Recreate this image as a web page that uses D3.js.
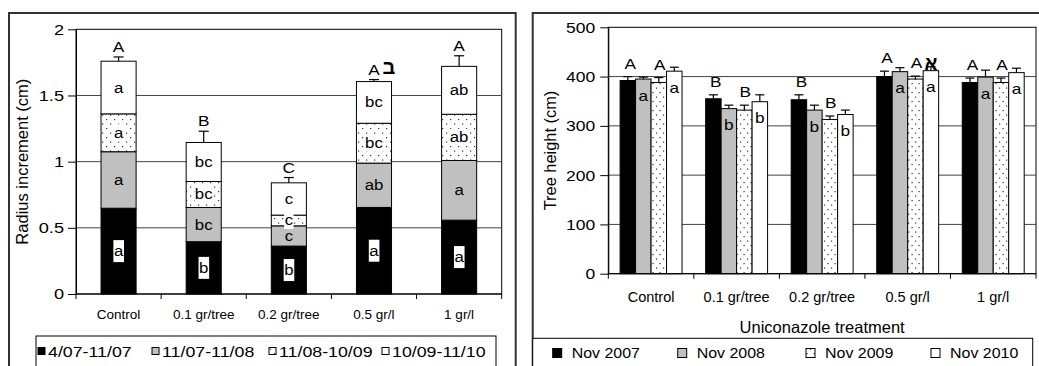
<!DOCTYPE html>
<html>
<head>
<meta charset="utf-8">
<script src="https://cdn.jsdelivr.net/npm/d3@7"></script>
<style>
  body { margin: 0; background: #fff; }
  svg text { font-family: "Liberation Sans", Arial, sans-serif; fill: #000; }
</style>
</head>
<body>
<div id="chart"></div>
<script>
const categories = ['Control', '0.1 gr/tree', '0.2 gr/tree', '0.5 gr/l', '1 gr/l']

// left panel: radius increment per period (stacked, cm)
const periods = ['4/07-11/07', '11/07-11/08', '11/08-10/09', '10/09-11/10']
const inc0407 = [0.648, 0.395, 0.362, 0.654, 0.558]
const inc1107 = [0.427, 0.259, 0.153, 0.335, 0.451]
const inc1108 = [0.286, 0.196, 0.081, 0.301, 0.349]
const inc1009 = [0.398, 0.295, 0.244, 0.315, 0.362]
const incErr = [0.032, 0.085, 0.04, 0.015, 0.08]
const let0407 = ['a', 'b', 'b', 'a', 'a']
const let1107 = ['a', 'bc', 'c', 'ab', 'a']
const let1108 = ['a', 'bc', 'c', 'bc', 'ab']
const let1009 = ['a', 'bc', 'c', 'bc', 'ab']
const incTotalLetters = ['A', 'B', 'C', 'A', 'A']
const incMarks = ['', '', '', 'ב', '']

// right panel: tree height (cm)
const years = ['Nov 2007', 'Nov 2008', 'Nov 2009', 'Nov 2010']
const h2007 = [392, 355, 353, 400, 388]
const h2008 = [395, 335, 332, 410, 399]
const h2009 = [388, 332, 313, 395, 388]
const h2010 = [411, 349, 323, 412, 408]
const e2007 = [8, 8, 10, 11, 9]
const e2008 = [4, 7, 10, 8, 14]
const e2009 = [10, 10, 7, 6, 9]
const e2010 = [8, 14, 9, 8, 9]
const heightUpper = ['A', 'B', 'B', 'A', 'A']
const heightLower = ['a', 'b', 'b', 'a', 'a']
const heightMarks = ['', '', '', 'א', '']

const width = 1039
const height = 366

const svg = d3.select('#chart')
  .append('svg')
  .attr('width', width)
  .attr('height', height)

const defs = svg.append('defs')

function dotPattern(id, w, h, dots) {
  const p = defs.append('pattern')
    .attr('id', id)
    .attr('patternUnits', 'userSpaceOnUse')
    .attr('width', w)
    .attr('height', h)
  p.append('rect').attr('width', w).attr('height', h).attr('fill', '#fff')
  dots.forEach(([cx, cy]) => {
    p.append('rect').attr('x', cx).attr('y', cy).attr('width', 1.2).attr('height', 1.2).attr('fill', '#333')
  })
}
dotPattern('dotsL', 8, 9, [[2, 2], [6, 6.5]])
dotPattern('dotsR', 7, 9, [[1.5, 2], [5, 6.5]])

function widen(sel, k) {
  sel.each(function () {
    const len = this.getComputedTextLength()
    d3.select(this).attr('textLength', len * k).attr('lengthAdjust', 'spacingAndGlyphs')
  })
}

// panel frames
svg.append('rect')
  .attr('x', 9).attr('y', 13).attr('width', 506.7).attr('height', 400)
  .attr('fill', 'none').attr('stroke', '#333').attr('stroke-width', 2)
svg.append('rect')
  .attr('x', 532.7).attr('y', 13).attr('width', 520).attr('height', 400)
  .attr('fill', 'none').attr('stroke', '#333').attr('stroke-width', 2)

// ---------- left panel ----------
function drawLeft() {
  const m = { left: 76, right: 501.7, top: 29.3, bottom: 294 }
  const x = d3.scaleBand().domain(categories).range([m.left, m.right])
    .paddingInner(0.588).paddingOuter(0.294)
  const y = d3.scaleLinear().domain([0, 2]).range([m.bottom, m.top])
  const g = svg.append('g')

  g.append('rect')
    .attr('x', m.left).attr('y', m.top)
    .attr('width', m.right - m.left).attr('height', m.bottom - m.top)
    .attr('fill', '#fff').attr('stroke', '#000')

  g.append('g').selectAll('line')
    .data([0.5, 1, 1.5])
    .join('line')
    .attr('x1', m.left).attr('x2', m.right)
    .attr('y1', d => y(d)).attr('y2', d => y(d))
    .attr('stroke', '#444')

  const series = [inc0407, inc1107, inc1108, inc1009]
  const seriesLetters = [let0407, let1107, let1108, let1009]
  const rows = categories.map((c, i) => {
    const r = { cat: c }
    periods.forEach((p, j) => { r[p] = series[j][i] })
    return r
  })
  const stacked = d3.stack().keys(periods)(rows)
  const fills = ['#000', '#c0c0c0', 'url(#dotsL)', '#fff']

  g.append('g').selectAll('g')
    .data(stacked)
    .join('g')
    .attr('fill', (_, j) => fills[j])
    .attr('stroke', '#000')
    .attr('stroke-width', 1)
    .selectAll('rect')
    .data(d => d)
    .join('rect')
    .attr('x', d => x(d.data.cat))
    .attr('y', d => y(d[1]))
    .attr('width', x.bandwidth())
    .attr('height', d => y(d[0]) - y(d[1]))

  const totals = categories.map((_, i) => series.reduce((s, a) => s + a[i], 0))
  const cx = c => x(c) + x.bandwidth() / 2

  // error bars
  const eb = g.append('g').attr('stroke', '#000').attr('stroke-width', 1.2)
  categories.forEach((c, i) => {
    eb.append('line')
      .attr('x1', cx(c)).attr('x2', cx(c))
      .attr('y1', y(totals[i])).attr('y2', y(totals[i] + incErr[i]))
    eb.append('line')
      .attr('x1', cx(c) - 5).attr('x2', cx(c) + 5)
      .attr('y1', y(totals[i] + incErr[i])).attr('y2', y(totals[i] + incErr[i]))
  })

  // segment letters
  stacked.forEach((layer, j) => {
    layer.forEach((d, i) => {
      const t = g.append('text')
        .attr('x', cx(d.data.cat))
        .attr('y', (y(d[0]) + y(d[1])) / 2)
        .attr('text-anchor', 'middle')
        .attr('dominant-baseline', 'central')
        .attr('font-size', 14)
        .text(seriesLetters[j][i])
      widen(t, 1.2)
      if (j === 0 || j === 2) {
        const b = t.node().getBBox()
        const py = j === 0 ? 3 : 0.5
        g.insert('rect', () => t.node())
          .attr('x', b.x - 0.5).attr('y', b.y - py)
          .attr('width', b.width + 1).attr('height', b.height + 2 * py)
          .attr('fill', '#fff')
      }
    })
  })

  // group letters above bars
  const up = g.append('g').attr('text-anchor', 'middle')
  categories.forEach((c, i) => {
    const t = up.append('text')
      .attr('x', cx(c))
      .attr('y', y(totals[i] + incErr[i]) - 5)
      .attr('font-size', 15)
      .text(incTotalLetters[i])
    widen(t, 1.15)
    if (incMarks[i]) {
      up.append('text')
        .attr('x', cx(c) + 15)
        .attr('y', y(totals[i] + incErr[i]) - 6)
        .attr('font-size', 20)
        .attr('font-weight', 'bold')
        .text(incMarks[i])
    }
  })

  // axes
  const yAxis = g.append('g')
    .attr('transform', `translate(${m.left},0)`)
    .call(d3.axisLeft(y).tickValues([0, 0.5, 1, 1.5, 2]).tickSize(8).tickSizeOuter(0).tickPadding(4).tickFormat(d => d))
  yAxis.attr('font-size', 14).attr('font-family', null)
  yAxis.selectAll('text').attr('dy', '0.35em')
  widen(yAxis.selectAll('text'), 1.3)

  g.append('line')
    .attr('x1', m.left).attr('x2', m.right)
    .attr('y1', m.bottom).attr('y2', m.bottom)
    .attr('stroke', '#000')
  g.append('g').selectAll('line')
    .data(d3.range(categories.length + 1))
    .join('line')
    .attr('x1', i => m.left + i * x.step()).attr('x2', i => m.left + i * x.step())
    .attr('y1', m.bottom).attr('y2', m.bottom + 5)
    .attr('stroke', '#000')
  g.append('g').selectAll('text')
    .data(categories)
    .join('text')
    .attr('x', d => cx(d))
    .attr('y', 318.5)
    .attr('text-anchor', 'middle')
    .attr('font-size', 13.5)
    .text(d => d)

  g.append('text')
    .attr('transform', `translate(28,${(m.top + m.bottom) / 2}) rotate(-90)`)
    .attr('text-anchor', 'middle')
    .attr('font-size', 16.5)
    .text('Radius increment (cm)')

  // legend
  const lg = g.append('g')
  lg.append('rect')
    .attr('x', 36).attr('y', 336).attr('width', 460).attr('height', 60)
    .attr('fill', '#fff').attr('stroke', '#000')
  const legX = [48, 162, 279, 392]
  const legFill = ['#000', '#c0c0c0', 'url(#dotsL)', '#fff']
  periods.forEach((p, j) => {
    lg.append('rect')
      .attr('x', legX[j] - 10).attr('y', 347.5)
      .attr('width', 7).attr('height', 7)
      .attr('fill', legFill[j]).attr('stroke', '#000')
    const t = lg.append('text')
      .attr('x', legX[j]).attr('y', 357)
      .attr('font-size', 14)
      .text(p)
    widen(t, 1.27)
  })
}

// ---------- right panel ----------
function drawRight() {
  const m = { left: 608.3, right: 1036, top: 27.3, bottom: 273.7 }
  const x0 = d3.scaleBand().domain(categories).range([m.left, m.right])
    .paddingInner(0.276).paddingOuter(0.138)
  const x1 = d3.scaleBand().domain(years).range([0, x0.bandwidth()])
  const y = d3.scaleLinear().domain([0, 500]).range([m.bottom, m.top])
  const g = svg.append('g')

  g.append('rect')
    .attr('x', m.left).attr('y', m.top)
    .attr('width', m.right - m.left).attr('height', m.bottom - m.top)
    .attr('fill', '#fff').attr('stroke', '#000')

  g.append('g').selectAll('line')
    .data([100, 200, 300, 400])
    .join('line')
    .attr('x1', m.left).attr('x2', m.right)
    .attr('y1', d => y(d)).attr('y2', d => y(d))
    .attr('stroke', '#444')

  const vals = [h2007, h2008, h2009, h2010]
  const errs = [e2007, e2008, e2009, e2010]
  const fills = ['#000', '#c0c0c0', 'url(#dotsR)', '#fff']
  const rows = []
  categories.forEach((c, i) => {
    years.forEach((yr, j) => rows.push({ cat: c, yr, j, v: vals[j][i], e: errs[j][i] }))
  })
  const bx = d => x0(d.cat) + x1(d.yr)
  const bw = x1.bandwidth()

  g.append('g').selectAll('rect')
    .data(rows)
    .join('rect')
    .attr('x', bx)
    .attr('y', d => y(d.v))
    .attr('width', bw)
    .attr('height', d => y(0) - y(d.v))
    .attr('fill', d => fills[d.j])
    .attr('stroke', '#000')

  const eb = g.append('g').attr('stroke', '#000').attr('stroke-width', 1.2)
  rows.forEach(d => {
    const c = bx(d) + bw / 2
    eb.append('line').attr('x1', c).attr('x2', c).attr('y1', y(d.v)).attr('y2', y(d.v + d.e))
    eb.append('line').attr('x1', c - 4.5).attr('x2', c + 4.5).attr('y1', y(d.v + d.e)).attr('y2', y(d.v + d.e))
  })

  const lt = g.append('g').attr('text-anchor', 'middle').attr('font-size', 15)
  rows.forEach(d => {
    const i = categories.indexOf(d.cat)
    const c = bx(d) + bw / 2
    if (d.j === 0 || d.j === 2) {
      const t = lt.append('text')
        .attr('x', c + (d.j === 0 ? 2.5 : 1))
        .attr('y', y(d.v + d.e) - 8)
        .text(heightUpper[i])
      widen(t, 1.15)
    } else {
      const t = lt.append('text')
        .attr('x', c)
        .attr('y', y(d.v) + 16)
        .attr('dominant-baseline', 'central')
        .text(heightLower[i])
      widen(t, 1.15)
    }
    if (d.j === 3 && heightMarks[i]) {
      lt.append('text')
        .attr('x', c)
        .attr('y', y(d.v) - 1)
        .attr('font-size', 19)
        .attr('font-weight', 'bold')
        .text(heightMarks[i])
    }
  })

  const yAxis = g.append('g')
    .attr('transform', `translate(${m.left},0)`)
    .call(d3.axisLeft(y).tickValues([0, 100, 200, 300, 400, 500]).tickSize(8).tickSizeOuter(0).tickPadding(5))
  yAxis.attr('font-size', 14).attr('font-family', null)
  yAxis.selectAll('text').attr('dy', '0.35em')
  widen(yAxis.selectAll('text'), 1.25)

  g.append('line')
    .attr('x1', m.left).attr('x2', m.right)
    .attr('y1', m.bottom).attr('y2', m.bottom)
    .attr('stroke', '#000')
  g.append('g').selectAll('line')
    .data(d3.range(categories.length + 1))
    .join('line')
    .attr('x1', i => m.left + i * x0.step()).attr('x2', i => m.left + i * x0.step())
    .attr('y1', m.bottom).attr('y2', m.bottom + 5)
    .attr('stroke', '#000')
  g.append('g').selectAll('text')
    .data(categories)
    .join('text')
    .attr('x', d => x0(d) + x0.bandwidth() / 2)
    .attr('y', 302)
    .attr('text-anchor', 'middle')
    .attr('font-size', 14.5)
    .text(d => d)

  g.append('text')
    .attr('x', (m.left + m.right) / 2)
    .attr('y', 332.5)
    .attr('text-anchor', 'middle')
    .attr('font-size', 16.5)
    .text('Uniconazole treatment')

  g.append('text')
    .attr('transform', `translate(556,${(m.top + m.bottom) / 2}) rotate(-90)`)
    .attr('text-anchor', 'middle')
    .attr('font-size', 16.4)
    .text('Tree height (cm)')

  const lg = g.append('g')
  lg.append('rect')
    .attr('x', 532.7).attr('y', 338.3).attr('width', 500).attr('height', 60)
    .attr('fill', '#fff').attr('stroke', '#000')
  const legX = [571.7, 696.7, 825, 950]
  years.forEach((yr, j) => {
    lg.append('rect')
      .attr('x', legX[j] - 19).attr('y', 348.5)
      .attr('width', 9).attr('height', 9)
      .attr('fill', fills[j]).attr('stroke', '#000')
    const t = lg.append('text')
      .attr('x', legX[j]).attr('y', 358)
      .attr('font-size', 14.5)
      .text(yr)
    widen(t, 1.1)
  })
}

drawLeft()
drawRight()
</script>
</body>
</html>
